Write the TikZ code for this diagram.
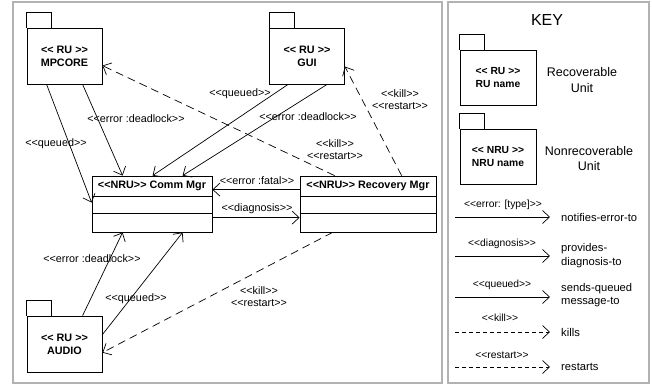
\documentclass[tikz,border=0pt]{standalone}
\usepackage{fontspec}
\setmainfont{Liberation Sans}
\usetikzlibrary{arrows.meta,calc}

\tikzset{
  frame/.style={draw=black!30, line width=2pt},
  box/.style={draw, line width=0.8pt, rectangle, inner sep=0pt},
  pkg/.style={box, minimum width=75pt, minimum height=56pt, align=center,
    font=\fontsize{10.8}{12.8}\selectfont\bfseries},
  cls/.style={box, minimum height=56pt},
  clstitle/.style={font=\fontsize{10.8}{12}\selectfont\bfseries, inner sep=0pt, anchor=center},
  lbl/.style={font=\fontsize{10.8}{12}\selectfont, inner sep=0pt, align=center},
  klbl/.style={font=\fontsize{10.3}{12}\selectfont, inner sep=0pt, align=center},
  desc/.style={font=\fontsize{11.2}{13.5}\selectfont, inner sep=0pt, align=left, anchor=west},
  keydesc/.style={font=\fontsize{12.5}{15.5}\selectfont, inner sep=0pt, align=center},
  tip/.style={-{Straight Barb[length=7pt,width=13pt,line width=0.7pt]}},
  conn/.style={draw, line width=0.7pt, tip},
  dconn/.style={conn, dash pattern=on 8pt off 5pt},
  lconn/.style={conn},
  ldconn/.style={conn, dash pattern=on 4pt off 3pt},
}

% draws the tab on top of a package node
\newcommand{\pkgtab}[1]{%
  \draw[line width=0.8pt] (#1.north west) -- ++(0,-15) -- ++(25,0) -- ++(0,15);}

\begin{document}
\begin{tikzpicture}[x=1pt, y=-1pt]
\useasboundingbox (0,0) rectangle (652,385);

% panels
\draw[frame] (13,2) rectangle (442,383);
\draw[frame] (448,2) rectangle (649,383);

% recoverable units
\node[pkg] (mp) at (64.5,56) {<{}< RU >{}>\\MPCORE};
\node[pkg] (gui) at (307,56) {<{}< RU >{}>\\GUI};
\node[pkg] (audio) at (64.5,344) {<{}< RU >{}>\\AUDIO};
\pkgtab{mp}
\pkgtab{gui}
\pkgtab{audio}

% nonrecoverable units
\node[cls, minimum width=120pt] (comm) at (152,204) {};
\node[clstitle] (commtitle) at ($(comm.north)+(0,10.5)$) {<{}<NRU>{}> Comm Mgr};
\draw[line width=0.8pt] ($(comm.north west)+(0,21)$) -- ($(comm.north east)+(0,21)$);
\draw[line width=0.8pt] ($(comm.north west)+(0,38)$) -- ($(comm.north east)+(0,38)$);

\node[cls, minimum width=136pt] (rec) at (368,204) {};
\node[clstitle] (rectitle) at ($(rec.north)+(0,10.5)$) {<{}<NRU>{}> Recovery Mgr};
\draw[line width=0.8pt] ($(rec.north west)+(0,21)$) -- ($(rec.north east)+(0,21)$);
\draw[line width=0.8pt] ($(rec.north west)+(0,38)$) -- ($(rec.north east)+(0,38)$);

% MPCORE connectors
\draw[conn] ($(mp.south west)+(20,0)$) -- ($(comm.north west)+(0,27)$);
\draw[conn] ($(mp.south west)+(56,0)$) -- ($(comm.north west)+(31,0)$);
\node[lbl] (l1) at (56,144) {<{}<queued>{}>};
\node[lbl] (l2) at (136,119) {<{}<error :deadlock>{}>};

% GUI connectors
\draw[conn] ($(gui.south west)+(19,0)$) -- ($(comm.north west)+(61,0)$);
\draw[conn] ($(gui.south west)+(58,0)$) -- ($(comm.north west)+(91,0)$);
\node[lbl] (l3) at (240,94) {<{}<queued>{}>};
\node[lbl] (l4) at (308,117) {<{}<error :deadlock>{}>};

% Recovery Mgr kills and restarts
\draw[dconn] ($(rec.north west)+(35,0)$) -- ($(mp.north east)+(0,38)$);
\draw[dconn] ($(rec.north west)+(102,0)$) -- ($(gui.north east)+(0,39)$);
\draw[dconn] ($(rec.south west)+(33,0)$) -- ($(audio.north east)+(0,37)$);
\node[lbl] (l5) at (335,149.5) {<{}<kill>{}>\\<{}<restart>{}>};
\node[lbl] (l6) at (400,99.5) {<{}<kill>{}>\\<{}<restart>{}>};
\node[lbl] (l7) at (259,296.5) {<{}<kill>{}>\\<{}<restart>{}>};

% between Comm Mgr and Recovery Mgr
\draw[conn] ($(rec.north west)+(0,14)$) -- ($(comm.north east)+(0,14)$);
\draw[conn] ($(comm.north east)+(0,42)$) -- ($(rec.north west)+(0,42)$);
\node[lbl] (l8) at (257,181) {<{}<error :fatal>{}>};
\node[lbl] (l9) at (257,209) {<{}<diagnosis>{}>};

% AUDIO connectors
\draw[conn] ($(audio.north west)+(56,0)$) -- ($(comm.south west)+(31,0)$);
\draw[conn] ($(audio.north east)+(0,19)$) -- ($(comm.south west)+(91,0)$);
\node[lbl] (l10) at (92,259) {<{}<error :deadlock>{}>};
\node[lbl] (l11) at (136,299) {<{}<queued>{}>};

% key
\node[font=\fontsize{16}{18}\selectfont, inner sep=0pt] (keytitle) at (547,20) {KEY};
\node[pkg, minimum width=76pt, minimum height=55pt, font=\fontsize{10.3}{12.8}\selectfont\bfseries] (kru) at (498,77.5) {<{}< RU >{}>\\RU name};
\node[pkg, minimum width=76pt, minimum height=55pt, font=\fontsize{10.3}{12.8}\selectfont\bfseries] (knru) at (498,156.5) {<{}< NRU >{}>\\NRU name};
\pkgtab{kru}
\pkgtab{knru}
\node[keydesc] (kd1) at (582,80) {Recoverable\\Unit};
\node[keydesc] (kd2) at (589,158.5) {Nonrecoverable\\Unit};

\coordinate (a1) at (455,217); \coordinate (b1) at (550,217);
\coordinate (a2) at (455,256); \coordinate (b2) at (550,256);
\coordinate (a3) at (455,297); \coordinate (b3) at (550,297);
\coordinate (a4) at (455,332); \coordinate (b4) at (550,332);
\coordinate (a5) at (455,367); \coordinate (b5) at (550,367);
\draw[lconn] (a1) -- (b1);
\draw[lconn] (a2) -- (b2);
\draw[lconn] (a3) -- (b3);
\draw[ldconn] (a4) -- (b4);
\draw[ldconn] (a5) -- (b5);
\node[klbl] (k1) at (503,205) {<{}<error: [type]>{}>};
\node[klbl] (k2) at (502,244) {<{}<diagnosis>{}>};
\node[klbl] (k3) at (502,285) {<{}<queued>{}>};
\node[klbl] (k4) at (500,318) {<{}<kill>{}>};
\node[klbl] (k5) at (502,355) {<{}<restart>{}>};
\node[desc] (d1) at (561,217) {notifies-error-to};
\node[desc] (d2) at (561,255.5) {provides-\\diagnosis-to};
\node[desc] (d3) at (561,295) {sends-queued\\message-to};
\node[desc] (d4) at (561,332) {kills};
\node[desc] (d5) at (561,367) {restarts};
\end{tikzpicture}
\end{document}
